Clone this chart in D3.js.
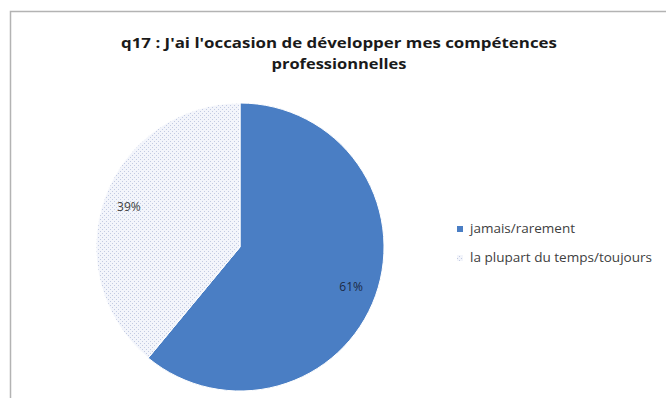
<!DOCTYPE html>
<html><head><meta charset="utf-8">
<script src="https://cdn.jsdelivr.net/npm/d3@7"></script>
<style>body{margin:0;background:#fff}svg{display:block}</style>
</head><body>
<script>
const categories = ["jamais/rarement", "la plupart du temps/toujours"];
const values = [61, 39];
const labels = ["61%", "39%"];
const titleLines = ["q17 : J'ai l'occasion de développer mes compétences", "professionnelles"];

const W = 666, H = 398;
const svg = d3.select("body").append("svg").attr("width", W).attr("height", H);
const defs = svg.append("defs");
const pat = defs.append("pattern").attr("id", "dots").attr("patternUnits", "userSpaceOnUse")
  .attr("width", 4).attr("height", 4);
pat.append("rect").attr("width", 4).attr("height", 4).attr("fill", "#f3f5fb");
pat.append("rect").attr("x", 0).attr("y", 0).attr("width", 1).attr("height", 1).attr("fill", "#c3cbe2");
pat.append("rect").attr("x", 2).attr("y", 2).attr("width", 1).attr("height", 1).attr("fill", "#c3cbe2");

// frame
svg.append("rect").attr("x", 10.5).attr("y", 11.5).attr("width", 680).attr("height", 400)
  .attr("fill", "#fff").attr("stroke", "#b3b3b3").attr("stroke-width", 1.5);

const font = "'Open Sans', 'Liberation Sans', sans-serif";
svg.append("g").selectAll("text").data(titleLines).join("text")
  .attr("x", 339).attr("y", (d, i) => 48 + i * 21)
  .attr("text-anchor", "middle").attr("font-family", font).attr("font-weight", "bold")
  .attr("font-size", 14.5).attr("fill", "#1a1a1a")
  .attr("textLength", (d, i) => i === 0 ? 436 : 135).attr("lengthAdjust", "spacingAndGlyphs")
  .text(d => d);

const fills = ["#4a7ec4", "url(#dots)"];
const cx = 240, cy = 247, r = 144;
const pie = d3.pie().sort(null).value(d => d);
const arcs = pie(values);
const arc = d3.arc().innerRadius(0).outerRadius(r);
const g = svg.append("g").attr("transform", `translate(${cx},${cy})`);
g.selectAll("path").data(arcs).join("path")
  .attr("d", arc).attr("fill", (d, i) => fills[i]).attr("stroke", "#fff").attr("stroke-width", 1);

const labelArc = d3.arc().innerRadius(r * 0.82).outerRadius(r * 0.82);
g.selectAll("text").data(arcs).join("text")
  .attr("transform", (d, i) => {
    const c = labelArc.centroid(d);
    return `translate(${c[0]},${c[1]})`;
  })
  .attr("text-anchor", "middle").attr("dy", "0.35em")
  .attr("font-family", font).attr("font-size", 12)
  .attr("fill", (d, i) => i === 0 ? "#1c2a44" : "#404040")
  .text((d, i) => labels[i]);

const legLen = [105, 182];
const leg = svg.append("g").attr("transform", "translate(457,0)");
const items = leg.selectAll("g").data(categories).join("g")
  .attr("transform", (d, i) => `translate(0,${229 + i * 29})`);
items.append("rect").attr("x", 0).attr("y", -3).attr("width", 6).attr("height", 6)
  .attr("fill", (d, i) => fills[i]);
items.append("text").attr("x", 13).attr("dy", "0.35em")
  .attr("font-family", font).attr("font-size", 12).attr("fill", "#404040")
  .attr("textLength", (d, i) => legLen[i]).attr("lengthAdjust", "spacingAndGlyphs")
  .text(d => d);
</script>
</body></html>
